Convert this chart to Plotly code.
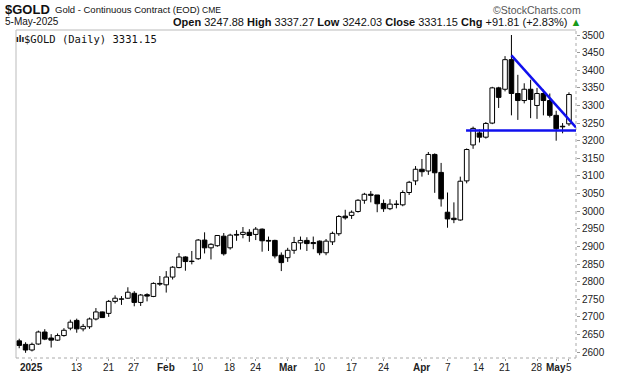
import datetime as dt
import plotly.graph_objects as go

# ---------------- data ----------------
opens = [2632, 2622, 2606, 2623, 2657, 2640, 2634, 2647, 2668, 2690,
         2666, 2672, 2694, 2714, 2710, 2744, 2750, 2753, 2767, 2741,
         2763, 2758, 2795, 2791, 2813, 2840, 2870, 2858, 2865, 2918,
         2896, 2902, 2929, 2896, 2934, 2934, 2940, 2934, 2949, 2917,
         2917, 2875, 2868, 2889, 2910, 2917, 2911, 2915, 2882, 2913,
         2936, 2986, 2988, 2999, 3031, 3048, 3046, 3022, 3007, 3020,
         3018, 3053, 3086, 3119, 3114, 3161, 3110, 2997, 2980, 2975,
         3086, 3188, 3222, 3210, 3250, 3350, 3346, 3430, 3334, 3314,
         3346, 3300, 3334, 3314, 3272, 3241, 3247.88]
highs = [2638, 2628, 2627, 2661, 2665, 2651, 2653, 2668, 2692, 2695,
         2680, 2698, 2725, 2715, 2748, 2761, 2759, 2784, 2773, 2765,
         2767, 2798, 2816, 2830, 2844, 2881, 2872, 2887, 2921, 2940,
         2909, 2932, 2938, 2936, 2946, 2955, 2949, 2955, 2951, 2928,
         2919, 2883, 2896, 2927, 2928, 2926, 2928, 2917, 2921, 2942,
         2989, 3004, 3002, 3034, 3052, 3057, 3046, 3033, 3034, 3031,
         3059, 3086, 3128, 3148, 3168, 3164, 3137, 3053, 3025, 3098,
         3178, 3240, 3232, 3253, 3353, 3353, 3440, 3500, 3387, 3363,
         3373, 3350, 3345, 3334, 3285, 3250, 3337.27]
lows = [2611, 2598, 2602, 2621, 2634, 2613, 2632, 2644, 2662, 2655,
        2659, 2666, 2690, 2697, 2700, 2738, 2734, 2751, 2730, 2731,
        2744, 2756, 2788, 2769, 2806, 2838, 2831, 2849, 2862, 2880,
        2863, 2899, 2874, 2891, 2916, 2923, 2913, 2918, 2885, 2887,
        2866, 2830, 2856, 2879, 2891, 2887, 2892, 2875, 2875, 2904,
        2930, 2976, 2978, 2996, 3021, 3025, 2997, 2998, 3003, 3008,
        3014, 3046, 3074, 3098, 3103, 3052, 3013, 2953, 2966, 2973,
        3079, 3177, 3195, 3206, 3247, 3293, 3340, 3272, 3259, 3306,
        3264, 3262, 3272, 3266, 3200, 3221, 3242.03]
closes = [2619, 2606, 2622, 2657, 2637, 2634, 2647, 2662, 2685, 2666,
          2673, 2694, 2714, 2698, 2744, 2753, 2751, 2770, 2741, 2762,
          2759, 2795, 2793, 2813, 2841, 2870, 2857, 2857, 2918, 2896,
          2906, 2931, 2879, 2932, 2932, 2940, 2931, 2949, 2916, 2915,
          2873, 2854, 2889, 2911, 2917, 2908, 2908, 2882, 2915, 2937,
          2985, 2981, 2997, 3031, 3048, 3045, 3021, 3007, 3020, 3019,
          3053, 3082, 3119, 3112, 3161, 3109, 3035, 2978, 2976, 3085,
          3175, 3235, 3210, 3249, 3350, 3323, 3430, 3334, 3314, 3346,
          3317, 3334, 3314, 3272, 3234, 3239.34, 3331.15]

# trading days: 30 Dec 2024 - 5 May 2025, exchange holidays closed
start, end = dt.date(2024, 12, 30), dt.date(2025, 5, 5)
holidays = {dt.date(2025, 1, 1), dt.date(2025, 1, 20), dt.date(2025, 2, 17),
            dt.date(2025, 4, 18)}
dates = []
d = start
while d <= end:
    if d.weekday() < 5 and d not in holidays:
        dates.append(d.isoformat())
    d += dt.timedelta(days=1)

tick_dates = ["2025-01-02", "2025-01-13", "2025-01-21", "2025-01-27", "2025-02-03",
              "2025-02-10", "2025-02-18", "2025-02-24", "2025-03-03", "2025-03-10",
              "2025-03-17", "2025-03-24", "2025-04-01", "2025-04-07", "2025-04-14",
              "2025-04-21", "2025-04-28", "2025-05-01", "2025-05-05"]
tick_text = ["<b>2025</b>", "13", "21", "27", "<b>Feb</b>", "10", "18", "24", "<b>Mar</b>",
             "10", "17", "24", "<b>Apr</b>", "7", "14", "21", "28", "<b>May</b>", "5"]

y_ticks = list(range(2600, 3501, 50))

# trendlines (candle index, price)
resist_start = (77, 3442)
resist_end = (87.1, 3238)
support_price = 3229
support_start = 69.9
support_end = 87.1

# ---------------- geometry ----------------
W, H = 620, 376
L, R, T, B = 16, 44, 30, 18
PW, PH = W - L - R, H - T - B


def px(x):
    return (x - L) / PW


def py(y):
    return (H - B - y) / PH


# candle pieces built from the OHLC lists
body_base = [min(o, c) for o, c in zip(opens, closes)]
body_len = [max(abs(c - o), 1.2) for o, c in zip(opens, closes)]
body_fill = ["white" if c >= o else "black" for o, c in zip(opens, closes)]
wx, wy = [], []
for dte, o, h, l, c in zip(dates, opens, highs, lows, closes):
    top, bot = max(o, c), min(o, c)
    wx += [dte, dte, None, dte, dte, None]
    wy += [h, top, None, bot, l, None]

fig = go.Figure()
fig.add_trace(go.Scatter(
    x=wx, y=wy, mode="lines", line=dict(color="black", width=1),
    hoverinfo="skip", showlegend=False, connectgaps=False,
))
fig.add_trace(go.Bar(
    x=dates, y=body_len, base=body_base, width=0.72,
    marker=dict(color=body_fill, line=dict(color="black", width=1)),
    hoverinfo="skip", showlegend=False,
))

fig.update_layout(
    width=W, height=H,
    margin=dict(l=L, r=R, t=T, b=B, autoexpand=False),
    paper_bgcolor="white", plot_bgcolor="white", barmode="overlay",
    font=dict(family="Liberation Sans, Arial, sans-serif", size=10, color="#222"),
    showlegend=False,
    xaxis=dict(
        type="category", categoryorder="array", categoryarray=dates,
        range=[-0.5, 87.1], automargin=False,
        tickmode="array", tickvals=tick_dates, showticklabels=False,
        showgrid=False, zeroline=False, showline=False,
        ticks="outside", ticklen=2, tickcolor="#999",
    ),
    yaxis=dict(
        side="right", range=[2583.3, 3514.2], tickmode="array", tickvals=y_ticks,
        automargin=False, showgrid=False, zeroline=False, showline=False,
        ticks="outside", ticklen=3, tickcolor="#999",
        tickfont=dict(size=10, color="#222"),
    ),
)

# x tick labels placed on the category scale
for tv, tt in zip(tick_dates, tick_text):
    fig.add_annotation(text=tt, x=tv, xref="x", y=py(367), yref="paper",
                       xanchor="center", yanchor="middle", showarrow=False,
                       font=dict(size=10, color="#222"))

# plot frame
fig.add_shape(type="line", xref="paper", yref="paper", x0=0, x1=0, y0=0, y1=1,
              line=dict(color="#bbb", width=1))
fig.add_shape(type="line", xref="paper", yref="paper", x0=0, x1=1, y0=1, y1=1,
              line=dict(color="#bbb", width=1))
fig.add_shape(type="line", xref="paper", yref="paper", x0=1, x1=1, y0=0, y1=1,
              line=dict(color="#aaa", width=1, dash="dot"))
fig.add_shape(type="line", xref="paper", yref="paper", x0=0, x1=1, y0=0, y1=0,
              line=dict(color="#aaa", width=1, dash="dot"))

# trendlines
fig.add_shape(type="line", xref="x", yref="y",
              x0=resist_start[0], y0=resist_start[1], x1=resist_end[0], y1=resist_end[1],
              line=dict(color="#1010ee", width=2.5))
fig.add_shape(type="line", xref="x", yref="y",
              x0=support_start, y0=support_price, x1=support_end, y1=support_price,
              line=dict(color="#1010ee", width=2.5))

sans = "Liberation Sans, Arial, sans-serif"
ann = [
    dict(text="<b>$GOLD</b>", x=3, y=10, size=13, font=sans, xanchor="left"),
    dict(text="Gold - Continuous Contract (EOD)", x=53, y=10, size=9.5, font=sans, xanchor="left"),
    dict(text="CME", x=200, y=10.5, size=8.5, font=sans, xanchor="left"),
    dict(text="©StockCharts.com", x=583, y=10, size=10.5, font=sans, xanchor="right", color="#555"),
    dict(text="5-May-2025", x=3, y=22, size=10, font=sans, xanchor="left"),
    dict(text="<b>Open</b> 3247.88 <b>High</b> 3337.27 <b>Low</b> 3242.03 <b>Close</b> 3331.15 "
              "<b>Chg</b> +91.81 (+2.83%) <span style='color:#1a9a1a'>▲</span>",
         x=583, y=22, size=11, font=sans, xanchor="right"),
    dict(text="$GOLD (Daily) 3331.15", x=22, y=39, size=10.5,
         font="DejaVu Sans Mono, monospace", xanchor="left"),
    dict(text="<b>ılı</b>", x=14, y=39, size=8, font="DejaVu Sans, sans-serif", xanchor="left"),
]
for a in ann:
    fig.add_annotation(
        text=a["text"], xref="paper", yref="paper", x=px(a["x"]), y=py(a["y"]),
        xanchor=a["xanchor"], yanchor="middle", showarrow=False,
        font=dict(family=a["font"], size=a["size"], color=a.get("color", "#111")),
    )

fig.write_html("out.html", config={"displayModeBar": False},
               post_script="document.body.style.margin='0';document.body.style.overflow='hidden';")
